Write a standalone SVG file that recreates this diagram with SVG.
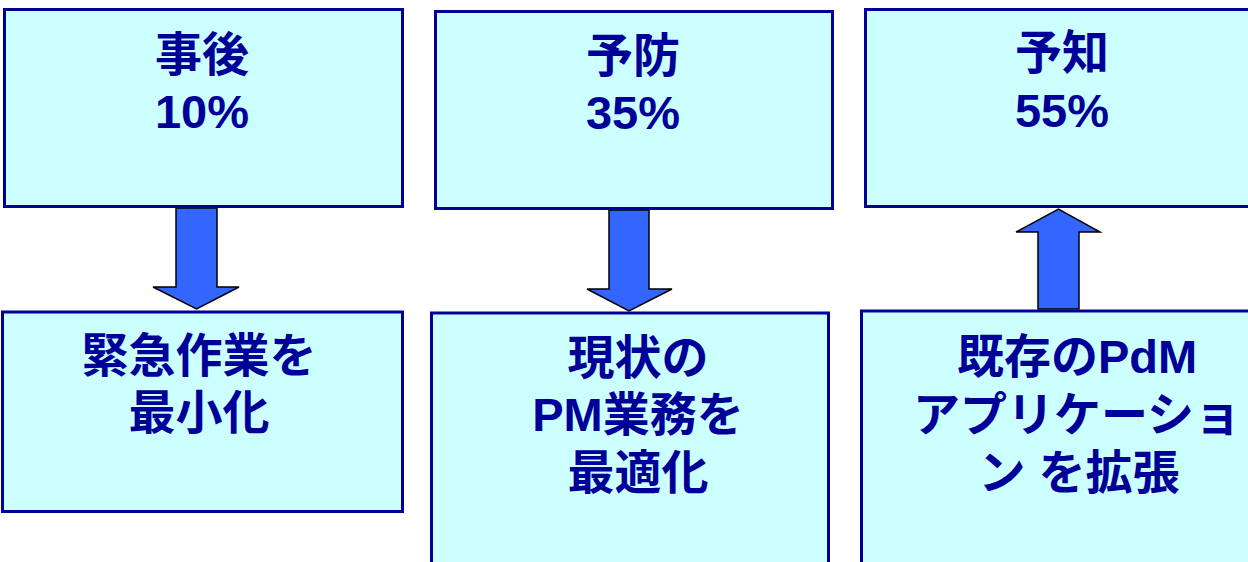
<svg xmlns="http://www.w3.org/2000/svg" width="1248" height="562" viewBox="0 0 1248 562">
<style>
.box{fill:#CCFFFF;stroke:#000099;stroke-width:3}
.t{font-family:"Liberation Sans","Noto Sans CJK JP",sans-serif;font-weight:bold;font-size:47px;fill:#000099;text-anchor:middle}
.arr{fill:#3366FF;stroke:#000000;stroke-width:1.5;stroke-linejoin:miter}
</style>
<rect width="1248" height="562" fill="#FFFFFF"/>
<g id="connectors">
<polygon class="arr" points="176,208 217,208 217,287 239,287 196.5,309 153,287 176,287"/>
<polygon class="arr" points="609,210 649,210 649,289 672,289 629,311 587,289 609,289"/>
<polygon class="arr" points="1038,309 1079,309 1079,232 1100,232 1058.5,209 1016,232 1038,232"/>
</g>
<g id="node-jigo">
<rect class="box" x="4.5" y="9.5" width="398" height="197"/>
<text class="t" x="202" y="71">事後</text>
<text class="t" x="202" y="128">10%</text>
</g>
<g id="node-yobo">
<rect class="box" x="435.5" y="11.5" width="397" height="197"/>
<text class="t" x="633" y="72">予防</text>
<text class="t" x="633" y="129">35%</text>
</g>
<g id="node-yochi">
<rect class="box" x="865.5" y="9.5" width="420" height="197"/>
<text class="t" x="1062" y="69">予知</text>
<text class="t" x="1062" y="127">55%</text>
</g>
<g id="node-kinkyu">
<rect class="box" x="2.5" y="312" width="400" height="199.5"/>
<text class="t" x="199" y="372">緊急作業を</text>
<text class="t" x="199" y="429">最小化</text>
</g>
<g id="node-pm">
<rect class="box" x="431.5" y="313" width="397" height="260"/>
<text class="t" x="638" y="374">現状の</text>
<text class="t" x="638" y="431">PM業務を</text>
<text class="t" x="638" y="489">最適化</text>
</g>
<g id="node-pdm">
<rect class="box" x="861.5" y="311" width="420" height="260"/>
<text class="t" x="1077" y="373">既存のPdM</text>
<text class="t" x="1077" y="431">アプリケーショ</text>
<text class="t" x="1079" y="489">ン を拡張</text>
</g>
</svg>
